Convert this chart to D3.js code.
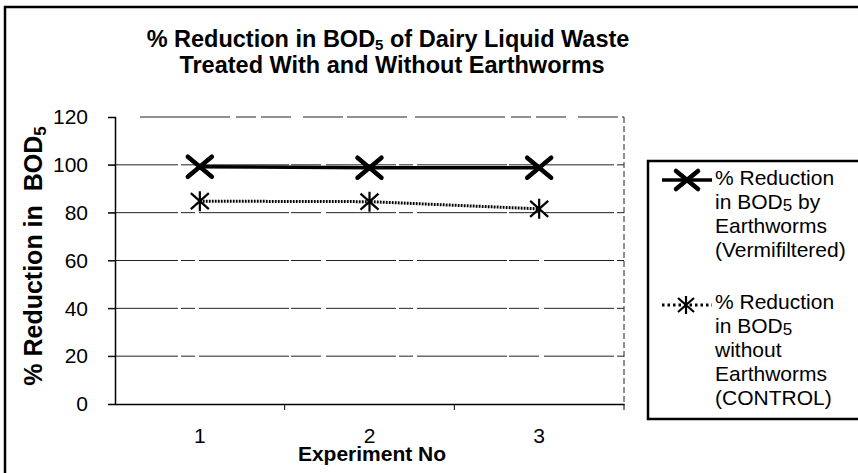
<!DOCTYPE html>
<html>
<head>
<meta charset="utf-8">
<script src="https://cdn.jsdelivr.net/npm/d3@7"></script>
<style>
  body { margin: 0; background: #fff; }
  svg { display: block; font-family: "Liberation Sans", Arial, sans-serif; }
</style>
</head>
<body>
<div id="chart"></div>
<script>
// data
const experiments = ["1", "2", "3"];
const bodVermi = [99.2, 98.8, 98.8];
const bodControl = [84.8, 84.6, 81.6];
const yTicks = [0, 20, 40, 60, 80, 100, 120];
const legendVermi = ["% Reduction", "in BOD|5| by", "Earthworms", "(Vermifiltered)"];
const legendControl = ["% Reduction", "in BOD|5|", "without", "Earthworms", "(CONTROL)"];

class ReductionChart {

  constructor(_config) {
    this.config = {
      parentElement: _config.parentElement,
      width: 858,
      height: 473
    }
    this.config.plot = { left: 115, right: 624, top: 117, bottom: 404 };
    this.initVis();
  }

  initVis() {
    let vis = this;

    vis.svg = d3.select(vis.config.parentElement).append("svg")
        .attr("width", vis.config.width)
        .attr("height", vis.config.height);

    // outer frame
    vis.svg.append("rect")
        .attr("x", 5).attr("y", 7)
        .attr("width", 880).attr("height", 500)
        .attr("fill", "none")
        .attr("stroke", "#000")
        .attr("stroke-width", 2.5);

    vis.xScale = d3.scaleBand().domain(experiments).range([vis.config.plot.left, vis.config.plot.right]);
    vis.yScale = d3.scaleLinear().domain([0, 120]).range([vis.config.plot.bottom, vis.config.plot.top]);

    // title
    let title = vis.svg.append("text")
        .attr("text-anchor", "middle")
        .attr("font-weight", "bold")
        .attr("font-size", 23.5);
    let t1 = title.append("tspan").attr("x", 388).attr("y", 47);
    t1.append("tspan").text("% Reduction in BOD");
    t1.append("tspan").attr("font-size", 15).attr("dy", 3).text("5");
    t1.append("tspan").attr("dy", -3).text(" of Dairy Liquid Waste");
    title.append("tspan").attr("x", 392).attr("y", 73).text("Treated With and Without Earthworms");

    vis.updateVis();
  }

  updateVis() {
    let vis = this;
    let p = vis.config.plot;

    // gridlines
    vis.svg.append("g").selectAll("line")
      .data(yTicks.filter(d => d > 0))
      .join("line")
        .attr("x1", d => d === 120 ? 140 : p.left - 7).attr("x2", p.right)
        .attr("y1", d => vis.yScale(d)).attr("y2", d => vis.yScale(d))
        .attr("stroke", "#222")
        .attr("stroke-width", 1)
        .attr("stroke-dasharray", d => d === 120 ? "90,6,20,5,30,12,40,4,60,8" : "70,3,14,4,90,2,30,5");

    // right border of the plot
    vis.svg.append("line")
        .attr("x1", p.right).attr("x2", p.right)
        .attr("y1", p.top).attr("y2", p.bottom)
        .attr("stroke", "#222").attr("stroke-dasharray", "6,3");

    // y axis
    let yAxis = d3.axisLeft(vis.yScale).tickValues(yTicks).tickSize(7).tickPadding(20);
    vis.svg.append("g")
        .attr("transform", "translate(" + p.left + ",0)")
        .call(yAxis)
        .call(g => g.select(".domain").attr("stroke-width", 1.5))
        .selectAll("text")
          .attr("font-size", 21)
          .attr("font-family", "Liberation Sans, Arial, sans-serif")
          .attr("fill", "#000");

    // x axis with ticks at category boundaries
    let xAxis = d3.axisBottom(vis.xScale).tickSize(0).tickPadding(24);
    let xg = vis.svg.append("g")
        .attr("transform", "translate(0," + p.bottom + ")")
        .call(xAxis);
    xg.select(".domain").attr("stroke-width", 1.5);
    xg.selectAll("text")
        .attr("font-size", 21)
        .attr("font-family", "Liberation Sans, Arial, sans-serif")
        .attr("fill", "#000");
    xg.selectAll(".sep")
      .data(experiments.slice(1).concat(["end"]))
      .join("line")
        .attr("x1", (d, i) => i < 2 ? vis.xScale(d) : p.right)
        .attr("x2", (d, i) => i < 2 ? vis.xScale(d) : p.right)
        .attr("y1", 0).attr("y2", 6)
        .attr("stroke", "#000");

    // axis titles
    vis.svg.append("text")
        .attr("x", 372).attr("y", 461)
        .attr("text-anchor", "middle")
        .attr("font-weight", "bold")
        .attr("font-size", 21)
        .text("Experiment No");

    let yl = vis.svg.append("text")
        .attr("transform", "translate(42,256) rotate(-90)")
        .attr("text-anchor", "middle")
        .attr("font-weight", "bold")
        .attr("font-size", 25);
    yl.append("tspan").text("% Reduction in \u00a0BOD");
    yl.append("tspan").attr("font-size", 17).attr("dy", 4).text("5");

    let cx = d => vis.xScale(d) + vis.xScale.bandwidth() / 2;
    let line = d3.line().x(d => cx(d[0])).y(d => vis.yScale(d[1]));

    // series: with earthworms
    let vermi = experiments.map((e, i) => [e, bodVermi[i]]);
    vis.svg.append("path")
        .datum(vermi)
        .attr("d", line)
        .attr("fill", "none")
        .attr("stroke", "#000")
        .attr("stroke-width", 3.4);
    vis.svg.append("g").selectAll("path")
      .data(vermi)
      .join("path")
        .attr("transform", d => "translate(" + cx(d[0]) + "," + vis.yScale(d[1]) + ")")
        .attr("d", "M-12,-10L12,10M-12,10L12,-10")
        .attr("stroke", "#000")
        .attr("stroke-width", 4.5)
        .attr("stroke-linecap", "round");

    // series: control
    let control = experiments.map((e, i) => [e, bodControl[i]]);
    vis.svg.append("path")
        .datum(control)
        .attr("d", line)
        .attr("fill", "none")
        .attr("stroke", "#000")
        .attr("stroke-width", 3)
        .attr("stroke-dasharray", "1.8,1.2");
    vis.svg.append("g").selectAll("path")
      .data(control)
      .join("path")
        .attr("transform", d => "translate(" + cx(d[0]) + "," + vis.yScale(d[1]) + ")")
        .attr("d", "M-9,-8L9,8M-9,8L9,-8M0,-10L0,10")
        .attr("stroke", "#000")
        .attr("stroke-width", 2.2);

    // legend
    let lg = vis.svg.append("g");
    lg.append("rect")
        .attr("x", 648).attr("y", 161)
        .attr("width", 240).attr("height", 258)
        .attr("fill", "#fff")
        .attr("stroke", "#000")
        .attr("stroke-width", 2.5);

    lg.append("line")
        .attr("x1", 662).attr("x2", 712).attr("y1", 180).attr("y2", 180)
        .attr("stroke", "#000").attr("stroke-width", 3.4);
    lg.append("path")
        .attr("transform", "translate(687,180)")
        .attr("d", "M-11,-9L11,9M-11,9L11,-9")
        .attr("stroke", "#000").attr("stroke-width", 4.5).attr("stroke-linecap", "round");

    lg.append("line")
        .attr("x1", 662).attr("x2", 712).attr("y1", 305).attr("y2", 305)
        .attr("stroke", "#000").attr("stroke-width", 3).attr("stroke-dasharray", "2.5,3");
    lg.append("path")
        .attr("transform", "translate(686,305)")
        .attr("d", "M-8,-7L8,7M-8,7L8,-7M0,-9L0,9")
        .attr("stroke", "#000").attr("stroke-width", 2.2);

    let addLines = (lines, y0) => {
      lines.forEach((s, i) => {
        let t = lg.append("text")
            .attr("x", 715).attr("y", y0 + i * 24)
            .attr("font-size", 21);
        s.split("|").forEach((part, j) => {
          if (j === 1) t.append("tspan").attr("font-size", 17).attr("dy", 2).text(part);
          else if (j === 2) t.append("tspan").attr("dy", -2).text(part);
          else t.append("tspan").text(part);
        });
      });
    };
    addLines(legendVermi, 185);
    addLines(legendControl, 309);
  }
}

new ReductionChart({ parentElement: "#chart" });
</script>
</body>
</html>
